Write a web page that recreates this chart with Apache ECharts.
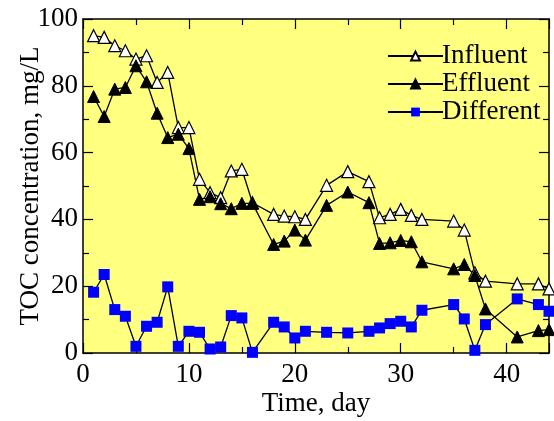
<!DOCTYPE html>
<html>
<head>
<meta charset="utf-8">
<script src="https://cdn.jsdelivr.net/npm/echarts@6/dist/echarts.min.js"></script>
<style>
  html, body { margin: 0; padding: 0; background: #fff; }
  #main { width: 554px; height: 421px; }
</style>
</head>
<body>
<div id="main"></div>
<script>
// sampling days (all three series share them)
var days = [1, 2, 3, 4, 5, 6, 7, 8, 9, 10, 11, 12, 13, 14, 15, 16,
            18, 19, 20, 21, 23, 25, 27, 28, 29, 30, 31, 32, 35, 36, 37, 38, 41, 43, 44];
// TOC, mg/L
var influent = [95, 94.5, 92, 90.5, 88, 89, 81, 84, 67.5, 67.5, 52, 48, 46.5, 54.5, 55, 45,
                41.5, 41, 40.8, 40, 50.2, 54.3, 51.3, 40.5, 41.5, 43, 41.2, 40, 39.5, 36.8, 24, 21.5, 20.7, 20.7, 19.2];
var effluent = [76.8, 70.8, 79, 79.5, 86, 81.2, 71.8, 64.5, 65.5, 61.2, 46, 46.8, 44.7, 43.2, 44.8, 44.8,
                32.5, 33.5, 36.8, 33.8, 44.2, 48.2, 45, 32.8, 33, 33.7, 33.3, 27.3, 25.2, 26.5, 23.2, 13.2, 4.8, 6.7, 7];
var different = [18.2, 23.5, 13, 11, 2, 8, 9.2, 19.8, 2, 6.5, 6.2, 1.2, 1.8, 11.2, 10.5, 0.2,
                 9.2, 7.8, 4.5, 6.5, 6.2, 6, 6.5, 7.5, 8.8, 9.5, 7.8, 12.8, 14.5, 10.2, 0.8, 8.5, 16.2, 14.5, 12.5];
var seriesNames = ['Influent', 'Effluent', 'Different'];

function pairs(ys) {
  return days.map(function (d, i) { return [d, ys[i]]; });
}

var font = 'Liberation Serif';

// shared look of the framed axes, ticks pointing inward
function axisBase(extra) {
  var a = {
    type: 'value',
    axisLine: { show: true, onZero: false, lineStyle: { color: '#000', width: 1.5 } },
    axisTick: { show: true, inside: true, length: 10, lineStyle: { color: '#000', width: 1.2 } },
    minorTick: { show: true, splitNumber: 2, length: 6, lineStyle: { color: '#000', width: 1.2 } },
    splitLine: { show: false },
    axisLabel: { show: false }
  };
  for (var k in extra) a[k] = extra[k];
  return a;
}

var chart = echarts.init(document.getElementById('main'), null, { renderer: 'canvas' });

chart.setOption({
  animation: false,
  textStyle: { fontFamily: font, color: '#000' },
  grid: {
    left: 83, top: 19, right: 5, bottom: 68,
    outerBoundsMode: 'none',
    show: true, backgroundColor: '#FFFF80', borderWidth: 0
  },
  legend: {
    orient: 'vertical',
    left: 382, top: 37,
    itemWidth: 55, itemHeight: 11, itemGap: 0,
    data: seriesNames,
    textStyle: { fontFamily: font, fontSize: 27, lineHeight: 28, color: '#000', padding: [0, 0, 0, -6] }
  },
  xAxis: [
    axisBase({
      position: 'bottom', min: 0, max: 44, interval: 10,
      name: 'Time, day', nameLocation: 'middle', nameGap: 37, nameMoveOverlap: false,
      nameTextStyle: { fontFamily: font, fontSize: 27, color: '#000' },
      axisLabel: { show: true, margin: 8, fontFamily: font, fontSize: 27, color: '#000', showMaxLabel: false }
    }),
    axisBase({ position: 'top', min: 0, max: 44, interval: 10 })
  ],
  yAxis: [
    axisBase({
      position: 'left', min: 0, max: 100, interval: 20,
      name: 'TOC concentration, mg/L', nameLocation: 'middle', nameGap: 39, nameMoveOverlap: false,
      nameTextStyle: { fontFamily: font, fontSize: 27, color: '#000' },
      axisLabel: { show: true, margin: 5, fontFamily: font, fontSize: 27, color: '#000' }
    }),
    axisBase({ position: 'right', min: 0, max: 100, interval: 20 })
  ],
  series: [
    {
      name: 'Influent', type: 'line', data: pairs(influent),
      symbol: 'triangle', symbolSize: 12,
      lineStyle: { color: '#000', width: 1.3 },
      itemStyle: { color: '#fff', borderColor: '#000', borderWidth: 1.2 }
    },
    {
      name: 'Effluent', type: 'line', data: pairs(effluent),
      symbol: 'triangle', symbolSize: 12,
      lineStyle: { color: '#000', width: 1.3 },
      itemStyle: { color: '#000', borderColor: '#000', borderWidth: 1 }
    },
    {
      name: 'Different', type: 'line', data: pairs(different),
      symbol: 'rect', symbolSize: 11,
      lineStyle: { color: '#000', width: 1.3 },
      itemStyle: { color: '#0000FF', borderWidth: 0 }
    }
  ]
});
</script>
</body>
</html>
